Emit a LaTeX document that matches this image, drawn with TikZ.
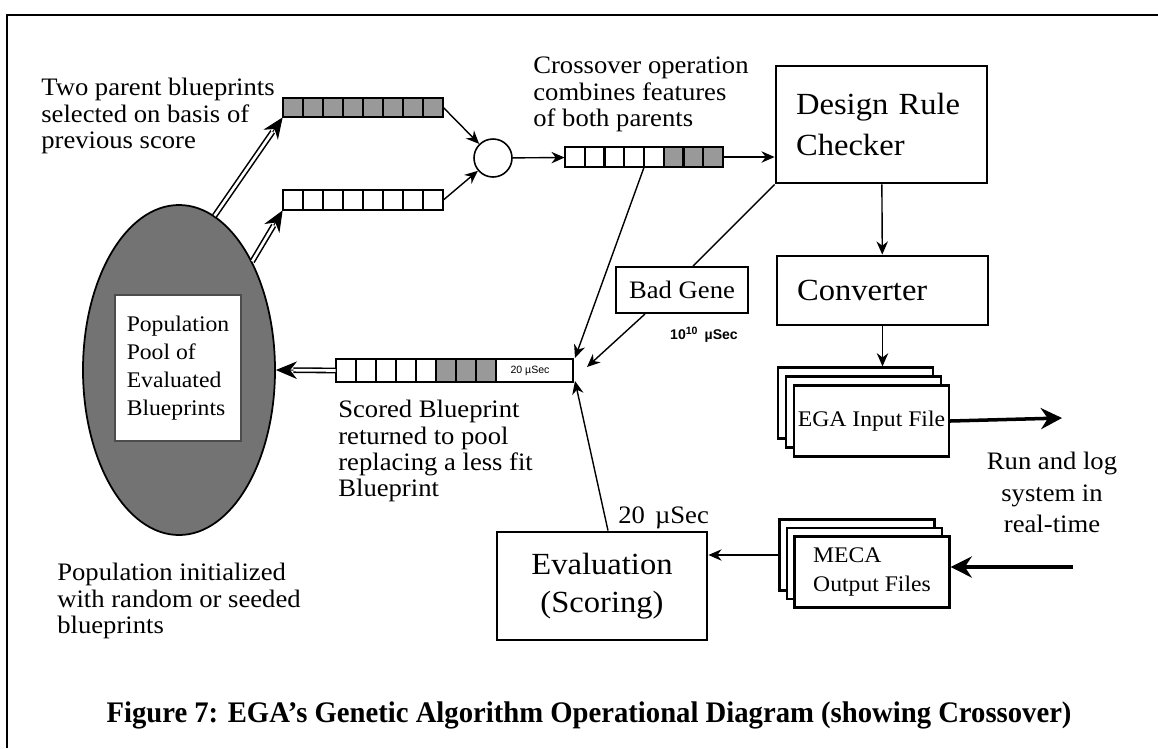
\documentclass[tikz,border=0pt]{standalone}
\usepackage{fontspec}
\setmainfont{Liberation Serif}[FakeStretch=1.06]
\setsansfont{Liberation Sans}
\newfontfamily\capfont{Liberation Serif}[FakeStretch=0.96]
\usetikzlibrary{arrows.meta, shapes.geometric}

\newlength\unitpx
\setlength\unitpx{0.02cm}

\tikzset{
  note/.style={align=left, inner sep=0pt, anchor=north west, font=\fontsize{14.3}{15}\selectfont},
  block/.style={draw, line width=1.6pt, inner sep=0pt, font=\fontsize{17.5}{23.2}\selectfont},
  sheet/.style={draw, line width=1.3pt, fill=white, inner sep=0pt,
    minimum width=155\unitpx, minimum height=71\unitpx},
  chrom/.style={inner sep=0pt, draw=none},
  gene/.style={draw, line width=1.2pt, fill=white},
  hit/.style={fill=black!40},
  link/.style={line width=0.8pt, -{Stealth[length=7.5pt, width=6.5pt]}},
  heavy/.style={line width=2pt, -{Stealth[length=12pt, width=12pt]}},
  twintip/.style={line width=0.6pt, -{Stealth[length=12pt, width=10pt]}},
  twin/.style={double, double distance=1.5pt, line width=0.9pt, shorten >=10pt}
}

\begin{document}
\begin{tikzpicture}[x=0.02cm, y=-0.02cm]
  \useasboundingbox (0,0) rectangle (1158,748);
  \draw[line width=1.2pt] (7,748) -- (7,15) -- (1158,15);

  % population pool
  \node[ellipse, draw, line width=1pt, fill=black!55, minimum width=192\unitpx, minimum height=330\unitpx] (pool) at (179,370) {};
  \node[fill=white, draw=black!70, line width=0.6pt, minimum width=126\unitpx, minimum height=146\unitpx,
    align=left, font=\fontsize{12.7}{15.9}\selectfont] (poolbox) at (178,368) {Population\\Pool of\\Evaluated\\Blueprints};

  % blueprints
  \foreach \i in {0,...,7} \draw[gene, hit] (283+20*\i,98) rectangle ++(20,19);
  \node[chrom, minimum width=160\unitpx, minimum height=19\unitpx] (pa) at (363,107.5) {};
  \foreach \i in {0,...,7} \draw[gene] (283+20*\i,190) rectangle ++(20,20);
  \node[chrom, minimum width=160\unitpx, minimum height=20\unitpx] (pb) at (363,200) {};
  \foreach \i in {0,...,4} \draw[gene] (565+19.75*\i,147) rectangle ++(19.75,20);
  \foreach \i in {5,6,7} \draw[gene, hit] (565+19.75*\i,147) rectangle ++(19.75,20);
  \node[chrom, minimum width=158\unitpx, minimum height=20\unitpx] (cx) at (644,157) {};
  \foreach \i in {0,...,4} \draw[gene] (336+20*\i,359) rectangle ++(20,23);
  \foreach \i in {5,6,7} \draw[gene, hit] (336+20*\i,359) rectangle ++(20,23);
  \draw[gene] (496,359) rectangle (573,382);
  \node[chrom, minimum width=237\unitpx, minimum height=23\unitpx] (sc) at (454.5,370.5) {};
  \node[font=\sffamily\fontsize{6}{7}\selectfont] (sctime) at (530,370.5) {20 µSec};

  \node[circle, draw, line width=0.9pt, minimum size=38\unitpx, inner sep=0pt] (mix) at (493,158) {};

  % processing blocks
  \node[block, text width=171\unitpx, inner xsep=20\unitpx, minimum height=117\unitpx, align=left] (drc) at (881.5,124.5) {Design Rule\\Checker};
  \node[block, text width=171\unitpx, inner xsep=20\unitpx, minimum height=69\unitpx, align=left] (conv) at (882.5,290.5) {Converter};
  \node[block, minimum width=210\unitpx, minimum height=108\unitpx, align=center,
    font=\fontsize{17.5}{21.5}\selectfont] (eval) at (602,586) {Evaluation\\(Scoring)};
  \node[draw, line width=1.1pt, minimum width=132\unitpx, minimum height=46\unitpx,
    font=\fontsize{14.3}{15}\selectfont] (bad) at (682,290) {Bad Gene};
  \node[font=\sffamily\bfseries\fontsize{8}{9}\selectfont] (badtime) at (704,335) {10\textsuperscript{10}\,~µSec};
  \node[font=\fontsize{14.3}{15}\selectfont, anchor=base west, inner sep=0pt] (evaltime) at (618,523) {20\hspace{0.4em}µSec};

  % files
  \node[sheet] (egaA) at (855.5,403) {};
  \node[sheet] (egaB) at (863.5,412) {};
  \node[sheet, font=\fontsize{12.7}{14}\selectfont] (ega) at (871.5,421) {EGA Input File};
  \node[sheet] (mecaA) at (857,555) {};
  \node[sheet] (mecaB) at (864.5,563.5) {};
  \node[sheet, align=left, font=\fontsize{12.7}{16.4}\selectfont] (meca) at (872,572) {MECA\\Output Files};

  % notes
  \node[note] (twopar) at (41,78) {Two parent blueprints\\selected on basis of\\previous score};
  \node[note] (xnote) at (533,57) {Crossover operation\\combines features\\of both parents};
  \node[note] (scnote) at (338,400) {Scored Blueprint\\returned to pool\\replacing a less fit\\Blueprint};
  \node[note] (initnote) at (57,563) {Population initialized\\with random or seeded\\blueprints};
  \node[note, anchor=north, align=center, font=\fontsize{14.3}{17.9}\selectfont] (runnote) at (1052,452) {Run and log\\system in\\real-time};

  \coordinate (hitA) at (575,358);
  \coordinate (hitB) at (587,367);
  \coordinate (hitC) at (575,381);
  \coordinate (runout) at (1062,418);
  \coordinate (runin) at (1073,567);

  % connectors
  \draw[twintip] (pool.77) -- (pa.south west);
  \draw[twin] (pool.77) -- (pa.south west);
  \draw[twintip] (pool.56) -- (pb.south west);
  \draw[twin] (pool.56) -- (pb.south west);
  \draw[twintip] (sc.west) -- (pool.east);
  \draw[twin] (sc.west) -- (pool.east);
  \draw[link] (pa.east) -- (mix);
  \draw[link] (pb.east) -- (mix);
  \draw[link] (mix) -- (cx);
  \draw[link] (cx.east) -- (cx.east -| drc.west);
  \draw[link] (drc) -- (conv);
  \draw[link] (conv.south) -- (conv.south |- egaA.north);
  \draw[heavy] (ega.east) -- (runout);
  \draw[heavy] (runin) -- (runin -| meca.east);
  \draw[link] (mecaA.west) -- (mecaA.west -| eval.east);
  \draw[link] ([xshift=0.12cm]eval.north) -- (hitC);
  \draw[link] (cx.south) -- (hitA);
  \draw[line width=0.8pt] (drc.south west) -- ([xshift=0.22cm]bad.north);
  \draw[link] ([xshift=-0.74cm]bad.south) -- (hitB);

  \node[font=\capfont\bfseries\fontsize{17}{20}\selectfont, anchor=base] (caption) at (589,722)
    {Figure 7: EGA’s Genetic Algorithm Operational Diagram (showing Crossover)};
\end{tikzpicture}
\end{document}
